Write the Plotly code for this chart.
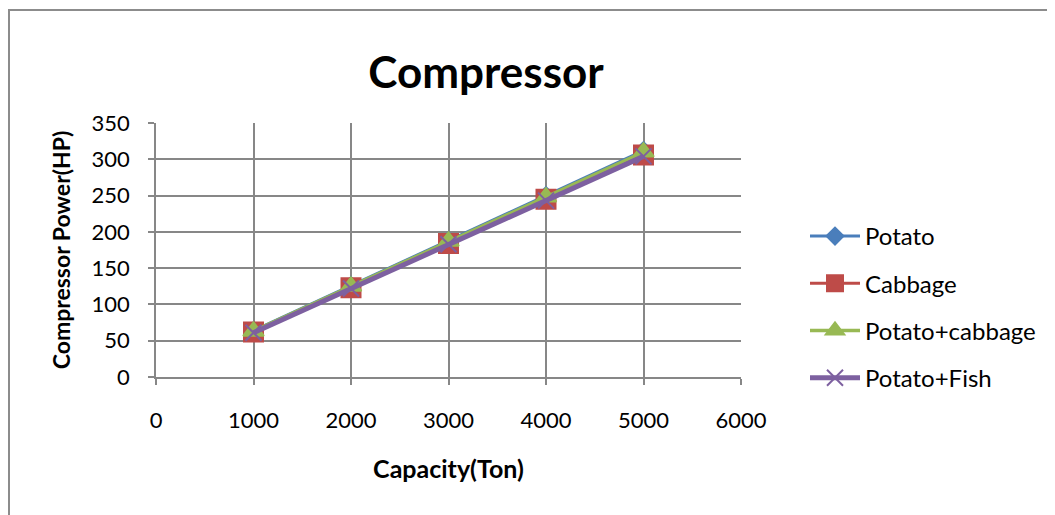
import plotly.graph_objects as go

capacity = [1000, 2000, 3000, 4000, 5000]
potato = [64, 126, 188, 250, 312]
cabbage = [62, 123, 184, 245, 306]
potato_cabbage = [63, 125, 187, 248, 310]
potato_fish = [61, 122, 183, 243, 304]

series = [
    ("Potato", potato, "#4A7EBB", "diamond", 13, 3),
    ("Cabbage", cabbage, "#BE4B48", "square", 19, 3),
    ("Potato+cabbage", potato_cabbage, "#98B954", "triangle-up", 18, 3.5),
    ("Potato+Fish", potato_fish, "#7D60A0", "x-thin", 16, 5),
]

FONT = "Lato, 'Open Sans', sans-serif"
OFF = 8  # page body margin

fig = go.Figure()
for i, (name, vals, color, sym, sz, lw) in enumerate(series):
    fig.add_trace(go.Scatter(
        x=capacity, y=vals, name=name, mode="lines+markers",
        legendgroup=f"g{i}",
        line=dict(color=color, width=lw),
        marker=dict(symbol=sym, size=sz, color=color,
                    line=dict(color=color, width=2)),
    ))

W, H = 1055 - OFF, 515 - OFF
x0s, x1s, y0s, y1s = 156 - OFF, 741 - OFF, 123 - OFF, 377 - OFF
L, R, T, B = x0s, W - x1s, y0s, H - y1s
pw, ph = W - L - R, H - T - B

fig.update_layout(
    width=W, height=H,
    margin=dict(l=L, r=R, t=T, b=B),
    paper_bgcolor="white", plot_bgcolor="white",
    font=dict(family=FONT, color="black", size=22),
    title=dict(text="<b>Compressor</b>", x=(486 - OFF) / W, xanchor="center",
               y=1 - (73 - OFF) / H, yanchor="middle",
               font=dict(size=44, family=FONT, color="black")),
    xaxis=dict(range=[0, 6000], tickvals=[0, 1000, 2000, 3000, 4000, 5000, 6000],
               showgrid=True, gridcolor="#878787", gridwidth=1.5,
               showline=True, linecolor="#878787", linewidth=1.5,
               ticks="outside", ticklen=6, tickcolor="#878787", tickwidth=1.5,
               ticklabelstandoff=17, tickfont=dict(size=22),
               zeroline=False, automargin=False,
               title=dict(text="<b>Capacity(Ton)</b>", font=dict(size=25), standoff=28)),
    yaxis=dict(range=[0, 350], tickvals=[0, 50, 100, 150, 200, 250, 300, 350],
               showgrid=True, gridcolor="#878787", gridwidth=1.5,
               showline=True, linecolor="#878787", linewidth=1.5,
               ticks="outside", ticklen=6, tickcolor="#878787", tickwidth=1.5,
               ticklabelstandoff=14, tickfont=dict(size=22),
               zeroline=False, automargin=False,
               title=dict(text="<b>Compressor Power(HP)</b>", font=dict(size=23), standoff=15)),
    legend=dict(x=(805 - x0s - OFF) / pw, xanchor="left", y=(377 - 214) / ph, yanchor="top",
                traceorder="grouped", tracegroupgap=13,
                font=dict(size=24, family=FONT), bgcolor="rgba(0,0,0,0)",
                itemwidth=50),
    showlegend=True,
)

fig.add_shape(type="rect", xref="paper", yref="paper",
              x0=(9 - 156) / pw, x1=2.0, y0=-2.0, y1=(377 - 10) / ph,
              line=dict(color="#8c8c8c", width=2), fillcolor="rgba(0,0,0,0)", layer="below")

fig.write_html("out.html")
